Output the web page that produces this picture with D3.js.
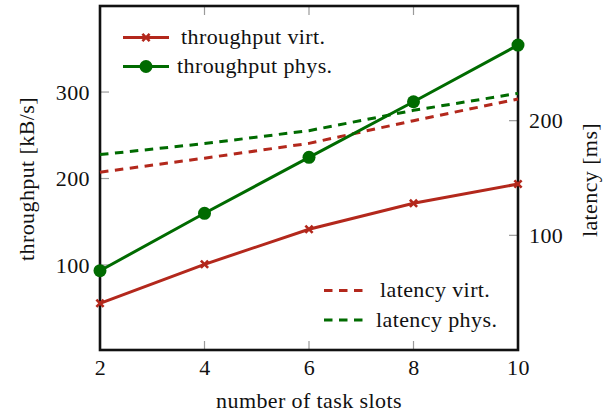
<!DOCTYPE html>
<head>
<meta charset="utf-8">
<style>
body { margin: 0; background: #fff; }
svg text { font-family: "Liberation Serif", "Times New Roman", serif; font-size: 22px; letter-spacing: 0.4px; fill: #111; }
.tick-mark { stroke: #9a9a9a; stroke-width: 1.2; }
</style>
</head>
<body>
<script src="https://cdn.jsdelivr.net/npm/d3@7"></script>
<script>

// data
var slots = [2, 4, 6, 8, 10];
var thrVirt = [55.7, 100.8, 141.3, 171.3, 193.6];
var thrPhys = [93.4, 159.8, 224.5, 288.8, 354.3];
var latVirt = [155.1, 167.3, 180.2, 200.0, 218.9];
var latPhys = [170.4, 180.0, 191.3, 209.0, 223.8];

var xTicks = [2, 4, 6, 8, 10];
var leftTicks = [100, 200, 300];
var rightTicks = [100, 200];

var red = "#b3281c", green = "#006b00";

var W = 608, H = 415;
var plot = {left: 100, right: 518, top: 6, bottom: 350};

var svg = d3.select("body").append("svg")
    .attr("width", W)
    .attr("height", H);

var x = d3.scaleLinear().domain([2, 10]).range([plot.left, plot.right]);
var yL = d3.scaleLinear().domain([1.7, 399.5]).range([plot.bottom, plot.top]);
var yR = d3.scaleLinear().domain([0, 300]).range([plot.bottom, plot.top]);

var tickLen = 9;

// inner tick marks (pgfplots style)
var ticks = svg.append("g");
xTicks.slice(1, -1).forEach(function(t) {
    ticks.append("line").attr("class", "tick-mark")
        .attr("x1", x(t)).attr("x2", x(t))
        .attr("y1", plot.bottom).attr("y2", plot.bottom - tickLen);
    ticks.append("line").attr("class", "tick-mark")
        .attr("x1", x(t)).attr("x2", x(t))
        .attr("y1", plot.top).attr("y2", plot.top + tickLen);
});
leftTicks.forEach(function(t) {
    ticks.append("line").attr("class", "tick-mark")
        .attr("x1", plot.left).attr("x2", plot.left + tickLen)
        .attr("y1", yL(t)).attr("y2", yL(t));
});
rightTicks.forEach(function(t) {
    ticks.append("line").attr("class", "tick-mark")
        .attr("x1", plot.right).attr("x2", plot.right - tickLen)
        .attr("y1", yR(t)).attr("y2", yR(t));
});

// axes for the labels only
var xAxis = svg.append("g")
    .attr("transform", "translate(0," + plot.bottom + ")")
    .call(d3.axisBottom(x).tickValues(xTicks).tickSize(0).tickPadding(9.5).tickFormat(d3.format("d")));
var lAxis = svg.append("g")
    .attr("transform", "translate(" + plot.left + ",0)")
    .call(d3.axisLeft(yL).tickValues(leftTicks).tickSize(0).tickPadding(10));
var rAxis = svg.append("g")
    .attr("transform", "translate(" + plot.right + ",0)")
    .call(d3.axisRight(yR).tickValues(rightTicks).tickSize(0).tickPadding(11));
[xAxis, lAxis, rAxis].forEach(function(a) {
    a.select(".domain").remove();
    a.attr("font-family", null).attr("font-size", null);
    a.selectAll("text").style("fill", "#111");
});

// frame
svg.append("rect")
    .attr("x", plot.left).attr("y", plot.top)
    .attr("width", plot.right - plot.left)
    .attr("height", plot.bottom - plot.top)
    .attr("fill", "none")
    .attr("stroke", "#111")
    .attr("stroke-width", 2.6);

function pts(vals) {
    return vals.map(function(v, i) { return [slots[i], v]; });
}

var lineL = d3.line().x(function(d) { return x(d[0]); }).y(function(d) { return yL(d[1]); });
var lineR = d3.line().x(function(d) { return x(d[0]); }).y(function(d) { return yR(d[1]); });

// latency (dashed, right axis)
svg.append("path").attr("d", lineR(pts(latVirt)))
    .attr("fill", "none").attr("stroke", red).attr("stroke-width", 3).attr("stroke-dasharray", "8.5,6.5");
svg.append("path").attr("d", lineR(pts(latPhys)))
    .attr("fill", "none").attr("stroke", green).attr("stroke-width", 3).attr("stroke-dasharray", "8.5,6.5");

// throughput (solid, left axis)
svg.append("path").attr("d", lineL(pts(thrVirt)))
    .attr("fill", "none").attr("stroke", red).attr("stroke-width", 3);
svg.append("path").attr("d", lineL(pts(thrPhys)))
    .attr("fill", "none").attr("stroke", green).attr("stroke-width", 3);

function cross(g, cx, cy) {
    var s = 3.6;
    g.append("path")
        .attr("d", "M" + (cx - s) + "," + (cy - s) + "L" + (cx + s) + "," + (cy + s) +
                   "M" + (cx - s) + "," + (cy + s) + "L" + (cx + s) + "," + (cy - s))
        .attr("stroke", red).attr("stroke-width", 2.6).attr("fill", "none");
}

var marks = svg.append("g");
pts(thrVirt).forEach(function(d) { cross(marks, x(d[0]), yL(d[1])); });
pts(thrPhys).forEach(function(d) {
    marks.append("circle").attr("cx", x(d[0])).attr("cy", yL(d[1])).attr("r", 6.5).attr("fill", green);
});

// legend top-left
var leg1 = svg.append("g");
leg1.append("line").attr("x1", 123).attr("x2", 169).attr("y1", 37.5).attr("y2", 37.5)
    .attr("stroke", red).attr("stroke-width", 3);
cross(leg1, 146, 37.5);
leg1.append("text").attr("x", 181).attr("y", 44).text("throughput virt.");
leg1.append("line").attr("x1", 123).attr("x2", 169).attr("y1", 66.5).attr("y2", 66.5)
    .attr("stroke", green).attr("stroke-width", 3);
leg1.append("circle").attr("cx", 146).attr("cy", 66.5).attr("r", 6.5).attr("fill", green);
leg1.append("text").attr("x", 177).attr("y", 73).text("throughput phys.");

// legend bottom-right
var leg2 = svg.append("g");
leg2.append("line").attr("x1", 324).attr("x2", 364).attr("y1", 290.5).attr("y2", 290.5)
    .attr("stroke", red).attr("stroke-width", 3).attr("stroke-dasharray", "8.5,6.5");
leg2.append("text").attr("x", 380).attr("y", 297).text("latency virt.");
leg2.append("line").attr("x1", 324).attr("x2", 364).attr("y1", 320).attr("y2", 320)
    .attr("stroke", green).attr("stroke-width", 3).attr("stroke-dasharray", "8.5,6.5");
leg2.append("text").attr("x", 376).attr("y", 326.5).text("latency phys.");

// axis titles
svg.append("text")
    .attr("x", (plot.left + plot.right) / 2).attr("y", 408)
    .attr("text-anchor", "middle")
    .text("number of task slots");
svg.append("text")
    .attr("transform", "translate(33.5,179) rotate(-90)")
    .attr("text-anchor", "middle")
    .text("throughput [kB/s]");
svg.append("text")
    .attr("transform", "translate(597,180) rotate(-90)")
    .attr("text-anchor", "middle")
    .text("latency [ms]");

</script>
</body>
